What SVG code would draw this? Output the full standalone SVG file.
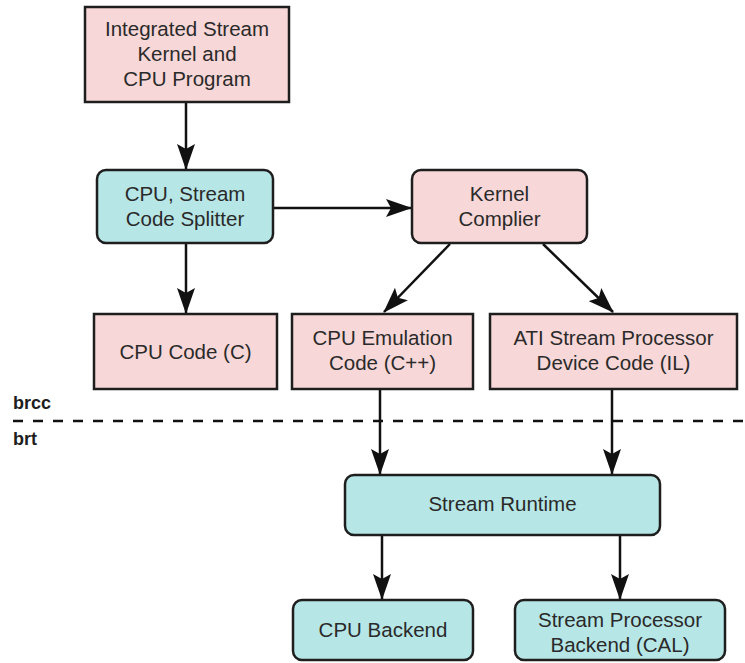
<svg xmlns="http://www.w3.org/2000/svg" width="745" height="663" viewBox="0 0 745 663">
  <style>
    .pink { fill: #f7d7d7; stroke: #1e1e1e; stroke-width: 2.5; }
    .cyan { fill: #b7e6e6; stroke: #1e1e1e; stroke-width: 2.5; }
    .lbl { font-family: "Liberation Sans", Arial, sans-serif; font-size: 20.5px; fill: #2a2a2a; text-anchor: middle; }
    .tag { font-family: "Liberation Sans", Arial, sans-serif; font-size: 18px; font-weight: bold; fill: #1e1e1e; }
    .edge { stroke: #111; stroke-width: 2.5; fill: none; marker-end: url(#head); }
    .divider { stroke: #111; stroke-width: 2.5; stroke-dasharray: 10 10; }
  </style>
  <defs>
    <marker id="head" viewBox="0 0 26 18" refX="25" refY="9" markerWidth="26" markerHeight="18" markerUnits="userSpaceOnUse" orient="auto">
      <path d="M0,0 L26,9 L0,18 L5,9 Z" fill="#111"/>
    </marker>
  </defs>
  <rect width="745" height="663" fill="#ffffff"/>

  <!-- brcc / brt boundary -->
  <g id="boundary">
    <line class="divider" x1="13" y1="421" x2="745" y2="421"/>
    <text class="tag" x="13" y="409">brcc</text>
    <text class="tag" x="13" y="445">brt</text>
  </g>

  <g id="connectors">
    <line class="edge" x1="186" y1="102" x2="186" y2="169"/>
    <line class="edge" x1="273" y1="208" x2="411" y2="208"/>
    <line class="edge" x1="186" y1="243" x2="186" y2="313"/>
    <line class="edge" x1="450" y1="244" x2="384" y2="312"/>
    <line class="edge" x1="543" y1="244" x2="613" y2="312"/>
    <line class="edge" x1="380" y1="389" x2="380" y2="474"/>
    <line class="edge" x1="612" y1="389" x2="612" y2="474"/>
    <line class="edge" x1="382" y1="535" x2="382" y2="599"/>
    <line class="edge" x1="620" y1="535" x2="620" y2="599"/>
  </g>

  <g id="integrated">
    <rect class="pink" x="85" y="7" width="204" height="95"/>
    <text class="lbl" x="187" y="36">Integrated Stream</text>
    <text class="lbl" x="187" y="61">Kernel and</text>
    <text class="lbl" x="187" y="86">CPU Program</text>
  </g>

  <g id="splitter">
    <rect class="cyan" x="97" y="170" width="176" height="73" rx="9"/>
    <text class="lbl" x="185" y="201">CPU, Stream</text>
    <text class="lbl" x="185" y="226">Code Splitter</text>
  </g>

  <g id="kernel-compiler">
    <rect class="pink" x="412" y="170" width="175" height="73" rx="9"/>
    <text class="lbl" x="499.5" y="201">Kernel</text>
    <text class="lbl" x="499.5" y="226">Complier</text>
  </g>

  <g id="cpu-code">
    <rect class="pink" x="94" y="314" width="183" height="75"/>
    <text class="lbl" x="185.5" y="359">CPU Code (C)</text>
  </g>

  <g id="cpu-emulation">
    <rect class="pink" x="292" y="314" width="181" height="75"/>
    <text class="lbl" x="382.5" y="345">CPU Emulation</text>
    <text class="lbl" x="382.5" y="370">Code (C++)</text>
  </g>

  <g id="device-code">
    <rect class="pink" x="490" y="314" width="247" height="75"/>
    <text class="lbl" x="613.5" y="345">ATI Stream Processor</text>
    <text class="lbl" x="613.5" y="370">Device Code (IL)</text>
  </g>

  <g id="runtime">
    <rect class="cyan" x="345" y="475" width="315" height="60" rx="9"/>
    <text class="lbl" x="502.5" y="511">Stream Runtime</text>
  </g>

  <g id="cpu-backend">
    <rect class="cyan" x="293" y="600" width="180" height="60" rx="9"/>
    <text class="lbl" x="383" y="637">CPU Backend</text>
  </g>

  <g id="sp-backend">
    <rect class="cyan" x="515" y="600" width="210" height="60" rx="9"/>
    <text class="lbl" x="620" y="627">Stream Processor</text>
    <text class="lbl" x="620" y="652">Backend (CAL)</text>
  </g>
</svg>
